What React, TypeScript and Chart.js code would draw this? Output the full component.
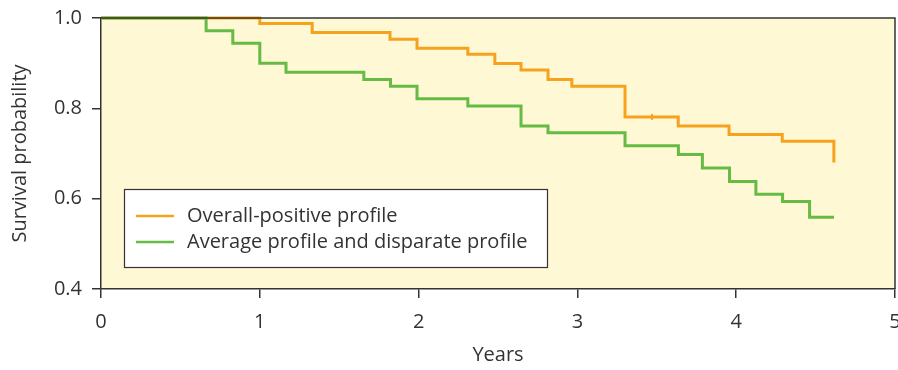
import React, { useEffect, useRef } from "react";
import { Chart, registerables } from "chart.js";

Chart.register(...registerables);

// Kaplan-Meier step data (time in years, survival after event)
const positiveTimes = [0, 1.0, 1.33, 1.82, 1.99, 2.31, 2.48, 2.645, 2.815, 2.965, 3.3, 3.635, 3.955, 4.29, 4.615];
const positiveSurvival = [1.0, 0.988, 0.968, 0.953, 0.933, 0.92, 0.899, 0.885, 0.864, 0.849, 0.781, 0.761, 0.742, 0.727, 0.68];
const positiveCensorTimes = [3.47];
const positiveCensorSurvival = [0.781];

const averageTimes = [0, 0.662, 0.83, 1.0, 1.165, 1.655, 1.823, 1.99, 2.31, 2.645, 2.815, 3.3, 3.636, 3.787, 3.958, 4.124, 4.292, 4.462, 4.616];
const averageSurvival = [1.0, 0.972, 0.944, 0.9, 0.88, 0.864, 0.849, 0.821, 0.805, 0.761, 0.746, 0.717, 0.698, 0.668, 0.638, 0.61, 0.594, 0.559, 0.559];

const seriesLabels = ["Overall-positive profile", "Average profile and disparate profile"];
const xTicks = [0, 1, 2, 3, 4, 5];
const yTicks = [0.4, 0.6, 0.8, 1.0];
const xTitle = "Years";
const yTitle = "Survival probability";

const ORANGE = "#F7A21F";
const GREEN = "#66BB45";
const BG = "#FEF8D5";
const AXIS = "#333333";
const TEXT = "#333333";
const FONT = "'Open Sans', sans-serif";

const toPoints = (xs: number[], ys: number[]) => xs.map((x, i) => ({ x, y: ys[i] }));

const panelPlugin = {
  id: "panel",
  beforeDraw(chart: any) {
    const { ctx, chartArea } = chart;
    ctx.save();
    ctx.fillStyle = BG;
    ctx.fillRect(chartArea.left, chartArea.top, chartArea.right - chartArea.left, chartArea.bottom - chartArea.top);
    ctx.restore();
  },
  afterDraw(chart: any) {
    const { ctx, chartArea } = chart;
    ctx.save();
    ctx.strokeStyle = AXIS;
    ctx.lineWidth = 1.5;
    ctx.beginPath();
    ctx.moveTo(chartArea.left, chartArea.top);
    ctx.lineTo(chartArea.right, chartArea.top);
    ctx.lineTo(chartArea.right, chartArea.bottom);
    ctx.stroke();

    // legend box
    const bx = 124.5, by = 189.5, bw = 423, bh = 78;
    ctx.fillStyle = "#ffffff";
    ctx.fillRect(bx, by, bw, bh);
    ctx.strokeStyle = AXIS;
    ctx.lineWidth = 1.2;
    ctx.strokeRect(bx, by, bw, bh);
    const colors = [ORANGE, GREEN];
    const rows = [216, 242];
    ctx.font = `20px ${FONT}`;
    ctx.textBaseline = "middle";
    ctx.textAlign = "left";
    seriesLabels.forEach((lab, i) => {
      ctx.strokeStyle = colors[i];
      ctx.lineWidth = 2.5;
      ctx.beginPath();
      ctx.moveTo(136, rows[i]);
      ctx.lineTo(174, rows[i]);
      ctx.stroke();
      ctx.fillStyle = TEXT;
      ctx.fillText(lab, 187, rows[i]);
    });
    ctx.restore();
  },
};

export default function App() {
  const ref = useRef<HTMLCanvasElement | null>(null);
  useEffect(() => {
    if (!ref.current) return;
    const chart = new Chart(ref.current, {
      type: "line",
      data: {
        datasets: [
          {
            label: seriesLabels[0],
            data: toPoints(positiveTimes, positiveSurvival),
            borderColor: ORANGE,
            borderWidth: 3,
            stepped: true,
            pointRadius: 0,
            fill: false,
            clip: 6,
            order: 2,
          },
          {
            label: seriesLabels[0] + " censored",
            data: toPoints(positiveCensorTimes, positiveCensorSurvival),
            type: "scatter",
            showLine: false,
            pointStyle: "line",
            rotation: 90,
            pointRadius: 3,
            borderColor: ORANGE,
            borderWidth: 2,
            clip: 6,
            order: 2,
          } as any,
          {
            label: seriesLabels[1],
            data: toPoints(averageTimes, averageSurvival),
            borderColor: GREEN,
            borderWidth: 3,
            stepped: true,
            pointRadius: 0,
            fill: false,
            clip: 6,
            order: 1,
          },
        ],
      },
      options: {
        responsive: false,
        animation: false,
        events: [],
        layout: { padding: { left: 0, top: 18, right: 25, bottom: 0 } },
        plugins: { legend: { display: false }, tooltip: { enabled: false } },
        scales: {
          x: {
            type: "linear",
            min: xTicks[0],
            max: xTicks[xTicks.length - 1],
            afterBuildTicks: (s: any) => {
              s.ticks = xTicks.map((v) => ({ value: v }));
            },
            afterFit: (s: any) => {
              s.height = 81;
              s.paddingLeft = 0;
              s.paddingRight = 0;
            },
            ticks: {
              color: TEXT,
              font: { family: FONT, size: 20 },
              padding: 12,
              maxRotation: 0,
              autoSkip: false,
              callback: (v: any) => String(v),
            },
            grid: { drawOnChartArea: false, drawTicks: true, tickLength: 9, color: AXIS, lineWidth: 1.5 },
            border: { display: true, color: AXIS, width: 1.5 },
            title: {
              display: true,
              text: xTitle,
              color: TEXT,
              font: { family: FONT, size: 20 },
              padding: { top: 3, bottom: 3 },
            },
          },
          y: {
            type: "linear",
            min: yTicks[0],
            max: yTicks[yTicks.length - 1],
            afterBuildTicks: (s: any) => {
              s.ticks = yTicks.map((v) => ({ value: v }));
            },
            afterFit: (s: any) => {
              s.width = 101;
              s.paddingTop = 0;
              s.paddingBottom = 0;
            },
            ticks: {
              color: TEXT,
              font: { family: FONT, size: 20 },
              padding: 10,
              autoSkip: false,
              callback: (v: any) => Number(v).toFixed(1),
            },
            grid: { drawOnChartArea: false, drawTicks: true, tickLength: 9, color: AXIS, lineWidth: 1.5 },
            border: { display: true, color: AXIS, width: 1.5 },
            title: {
              display: true,
              text: yTitle,
              color: TEXT,
              font: { family: FONT, size: 20 },
              padding: { top: 8, bottom: 8 },
            },
          },
        },
      },
      plugins: [panelPlugin],
    });
    return () => chart.destroy();
  }, []);

  return (
    <div style={{ position: "absolute", left: 0, top: 0, width: 898, height: 370, overflow: "hidden", background: "#fff" }}>
      <canvas ref={ref} width={920} height={370} style={{ display: "block" }} />
    </div>
  );
}
